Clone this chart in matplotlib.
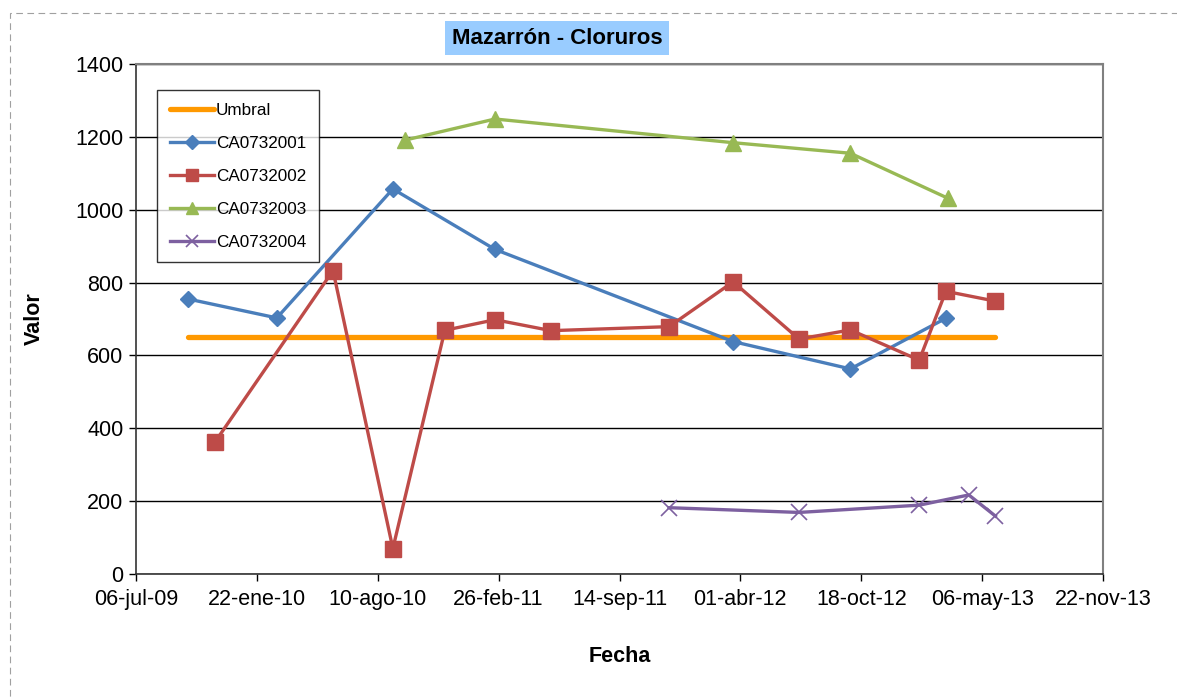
import numpy as np
import pandas as pd
import matplotlib
matplotlib.use("Agg")
import matplotlib.pyplot as plt
from matplotlib.patches import Rectangle

plt.rcParams['font.family'] = ['Liberation Sans', 'DejaVu Sans']

# Data
umbral_dates = ["2009-09-30", "2013-05-28"]
umbral_vals = [650, 650]

s1_dates = ["2009-09-30", "2010-02-24", "2010-09-04", "2011-02-20", "2012-03-20", "2012-09-30", "2013-03-07"]
s1_vals = [755, 703, 1057, 891, 638, 563, 702]

s2_dates = ["2009-11-14", "2010-05-28", "2010-09-04", "2010-11-29", "2011-02-20", "2011-05-24",
            "2011-12-05", "2012-03-20", "2012-07-07", "2012-09-30", "2013-01-22", "2013-03-07", "2013-05-28"]
s2_vals = [363, 833, 70, 669, 698, 668, 679, 802, 645, 670, 587, 776, 749]

s3_dates = ["2010-09-24", "2011-02-20", "2012-03-20", "2012-09-30", "2013-03-11"]
s3_vals = [1191, 1249, 1184, 1155, 1031]

s4_dates = ["2011-12-05", "2012-07-07", "2013-01-22", "2013-04-14", "2013-05-28"]
s4_vals = [182, 169, 189, 217, 159]

tick_dates = ["2009-07-06", "2010-01-22", "2010-08-10", "2011-02-26", "2011-09-14",
              "2012-04-01", "2012-10-18", "2013-05-06", "2013-11-22"]
tick_labels = ["06-jul-09", "22-ene-10", "10-ago-10", "26-feb-11", "14-sep-11",
               "01-abr-12", "18-oct-12", "06-may-13", "22-nov-13"]

fig = plt.figure(figsize=(11.77, 6.97), dpi=100)
ax = fig.add_axes([136 / 1177, 1 - 574 / 697, 967 / 1177, 510 / 697])

# dashed outer frame
fig.patches.append(Rectangle((10 / 1177, -0.1), 1.2, 1 - 13 / 697 + 0.1, transform=fig.transFigure,
                             fill=False, edgecolor='#a0a0a0', linestyle=(0, (6, 4)), linewidth=0.8))

to_d = lambda d: pd.to_datetime(d)

ax.plot(to_d(umbral_dates), umbral_vals, color='#FF9900', lw=3.8, solid_capstyle='round', label='Umbral', zorder=3)
ax.plot(to_d(s1_dates), s1_vals, color='#4A7EBB', lw=2.4, marker='D', ms=8.5, label='CA0732001', zorder=4)
ax.plot(to_d(s2_dates), s2_vals, color='#BE4B48', lw=2.4, marker='s', ms=11, label='CA0732002', zorder=4)
ax.plot(to_d(s3_dates), s3_vals, color='#98B954', lw=2.4, marker='^', ms=11, label='CA0732003', zorder=4)
ax.plot(to_d(s4_dates), s4_vals, color='#7D60A0', lw=2.4, marker='x', ms=11, mew=1.2, label='CA0732004', zorder=4)

ax.set_xlim(to_d(tick_dates[0]), to_d(tick_dates[-1]))
ax.set_ylim(0, 1400)
ax.set_xticks(to_d(tick_dates))
ax.set_xticklabels(tick_labels)
ax.set_yticks(np.arange(0, 1401, 200))
ax.yaxis.grid(True, color='black', lw=1)
ax.set_axisbelow(True)
ax.tick_params(axis='both', direction='out', length=5, width=1, labelsize=15.5, colors='black')
ax.tick_params(axis='x', pad=6)
ax.tick_params(axis='y', pad=4)

for s in ['top', 'right']:
    ax.spines[s].set_color('#808080')
    ax.spines[s].set_linewidth(1.5)
for s in ['left', 'bottom']:
    ax.spines[s].set_color('#333333')
    ax.spines[s].set_linewidth(1.2)

ax.set_xlabel('Fecha', fontsize=15.5, fontweight='bold', labelpad=26)
ax.set_ylabel('Valor', fontsize=15.5, fontweight='bold', labelpad=22)

fig.text(557 / 1177, 1 - 38 / 697, 'Mazarrón - Cloruros', fontsize=16, fontweight='bold', ha='center', va='center',
         bbox=dict(boxstyle='square,pad=0.3', facecolor='#99CCFF', edgecolor='none'))

leg = ax.legend(loc='upper left', bbox_to_anchor=(21 / 967, 1 - 26 / 510), fontsize=12.3, frameon=True,
                fancybox=False, edgecolor='black', borderpad=0.75, labelspacing=1.05, handlelength=2.6,
                handletextpad=0.1, borderaxespad=0, markerscale=0.8)
leg.get_frame().set_linewidth(1)

fig.savefig('out.png', dpi=100)
